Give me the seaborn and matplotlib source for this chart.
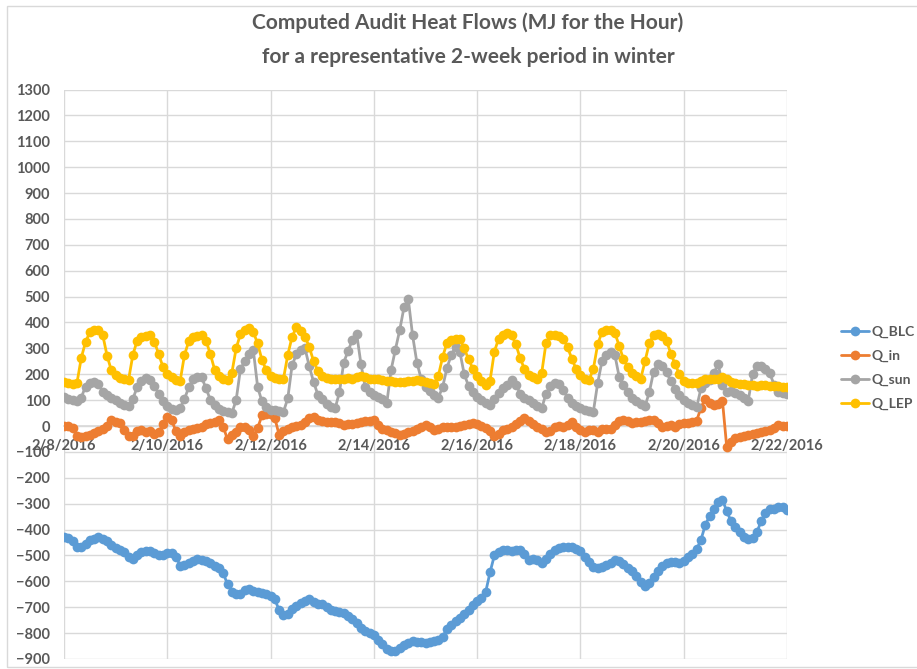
import pandas as pd
import matplotlib
matplotlib.use("Agg")
import matplotlib.pyplot as plt
import seaborn as sns
from matplotlib.lines import Line2D

# two-hourly readings, 2/8/2016 00:00 .. 2/22/2016 00:00 (MJ for the hour)
q_blc = [
    -428, -432, -445, -467, -467, -455, -442, -435, -428, -435, -445, -460,
    -473, -480, -487, -505, -513, -497, -488, -482, -482, -489, -498, -500,
    -489, -489, -505, -539, -537, -530, -520, -514, -517, -522, -530, -539,
    -550, -568, -612, -640, -650, -647, -632, -630, -636, -641, -645, -650,
    -656, -670, -712, -731, -725, -705, -695, -683, -676, -668, -680, -686,
    -687, -700, -711, -714, -718, -722, -733, -744, -762, -782, -790, -798,
    -807, -825, -842, -860, -869, -868, -856, -847, -838, -831, -833, -836,
    -838, -836, -831, -828, -815, -783, -769, -755, -741, -727, -712, -692,
    -677, -665, -640, -565, -500, -485, -478, -477, -483, -480, -480, -493,
    -518, -515, -517, -528, -512, -495, -480, -470, -467, -467, -467, -475,
    -484, -505, -527, -545, -547, -543, -537, -529, -518, -520, -533, -547,
    -561, -580, -602, -617, -607, -585, -560, -542, -528, -524, -524, -528,
    -520, -507, -494, -476, -440, -383, -348, -320, -295, -285, -329, -368,
    -392, -411, -428, -438, -431, -411, -366, -335, -320, -319, -311, -312,
    -325,
]
q_in = [
    0, 2, -8, -40, -42, -38, -33, -27, -20, -12, 0, 22,
    15, 10, -15, -38, -38, -20, -15, -22, -18, -30, -25, 8,
    35, 23, -20, -38, -25, -15, -11, -7, -3, 6, 12, 17,
    23, -3, -52, -35, -22, -5, -3, -15, -39, -9, 42, 47,
    45, 30, -35, -18, -10, -4, 0, 4, 15, 30, 33, 23,
    20, 17, 17, 17, 10, 4, 6, 9, 12, 15, 18, 20,
    23, 5, -10, -15, -22, -28, -34, -30, -25, -20, -10, -3,
    3, -5, -15, -10, -4, -3, -3, -2, 0, 4, 7, 10,
    6, 0, -8, -20, -38, -30, -17, -10, -3, 6, 20, 30,
    20, 8, -4, -12, -22, -20, -5, 2, -3, 5, 17, -5,
    -15, -22, -17, -15, -25, -10, -12, -10, 5, 18, 25, 18,
    13, 15, 17, 20, 22, 22, 10, -3, 0, 4, -2, 7,
    10, 13, 17, 20, 70, 105, 88, 81, 86, 98, -82, -60,
    -48, -43, -37, -33, -29, -26, -23, -20, -14, -8, 3, 2,
    0,
]
q_sun = [
    113, 105, 100, 97, 110, 152, 168, 170, 164, 130, 121, 110,
    100, 90, 80, 77, 105, 150, 172, 184, 178, 155, 125, 98,
    78, 66, 63, 70, 105, 150, 180, 190, 188, 145, 102, 80,
    67, 58, 53, 50, 100, 220, 250, 278, 292, 150, 95, 75,
    63, 60, 58, 55, 107, 235, 277, 293, 300, 230, 170, 120,
    104, 86, 75, 68, 130, 245, 290, 332, 357, 240, 150, 133,
    121, 113, 104, 88, 216, 295, 370, 458, 490, 350, 245, 182,
    150, 135, 120, 110, 152, 225, 275, 306, 285, 200, 155, 130,
    113, 100, 90, 82, 105, 128, 147, 160, 178, 160, 125, 108,
    100, 88, 78, 68, 125, 153, 168, 163, 138, 110, 90, 77,
    68, 62, 58, 55, 165, 250, 275, 287, 275, 190, 157, 130,
    107, 95, 85, 76, 130, 210, 240, 232, 210, 172, 142, 120,
    100, 90, 81, 72, 145, 168, 177, 203, 240, 160, 132, 134,
    127, 118, 108, 98, 200, 233, 230, 222, 203, 160, 132, 127,
    124,
]
q_lep = [
    170, 165, 163, 165, 262, 325, 362, 372, 370, 352, 272, 215,
    196, 187, 182, 178, 275, 330, 343, 348, 350, 325, 278, 228,
    200, 188, 178, 175, 275, 328, 342, 348, 350, 330, 278, 218,
    192, 180, 179, 205, 300, 355, 372, 377, 362, 319, 255, 216,
    195, 186, 180, 183, 275, 345, 382, 366, 345, 305, 250, 213,
    195, 187, 183, 182, 183, 182, 184, 183, 190, 195, 188, 183,
    182, 180, 176, 173, 172, 170, 170, 171, 172, 175, 178, 174,
    170, 167, 162, 195, 268, 322, 333, 338, 336, 300, 258, 222,
    195, 172, 160, 175, 287, 338, 352, 358, 352, 315, 262, 220,
    197, 188, 182, 205, 320, 350, 350, 347, 338, 305, 260, 220,
    196, 183, 178, 220, 315, 363, 370, 370, 360, 310, 258, 228,
    205, 194, 182, 250, 320, 352, 356, 348, 330, 280, 238, 200,
    174, 167, 165, 166, 174, 180, 181, 181, 183, 190, 182, 171,
    167, 164, 161, 159, 157, 156, 158, 157, 156, 155, 153, 152,
    150,
]

series_names = ["Q_BLC", "Q_in", "Q_sun", "Q_LEP"]
series_colors = ["#5B9BD5", "#ED7D31", "#A5A5A5", "#FFC000"]
title_lines = ["Computed Audit Heat Flows (MJ for the Hour)",
               "for a representative 2-week period in winter"]

times = pd.date_range("2016-02-08", periods=len(q_blc), freq="2h")
df = pd.DataFrame({"time": times, "Q_BLC": q_blc, "Q_in": q_in,
                   "Q_sun": q_sun, "Q_LEP": q_lep})
long_df = df.melt(id_vars="time", var_name="series", value_name="mj")

sns.set_theme(style="white")
plt.rcParams["font.family"] = ["Lato", "DejaVu Sans"]

text_grey = "#595959"
grid_grey = "#D9D9D9"

fig = plt.figure(figsize=(9.17, 6.69), dpi=100)
ax = fig.add_axes([64 / 917, 1 - 659 / 669, (787 - 64) / 917, (659 - 89.5) / 669])

sns.lineplot(data=long_df, x="time", y="mj", hue="series",
             hue_order=series_names, palette=series_colors,
             estimator=None, errorbar=None, marker="o", markersize=7,
             markeredgewidth=0, linewidth=2, legend=False, ax=ax)

# axes, grid
x_ticks = pd.date_range("2016-02-08", "2016-02-22", freq="2D")
ax.set_xlim(x_ticks[0], x_ticks[-1])
ax.set_xticks(x_ticks)
ax.set_xticklabels([f"{d.month}/{d.day}/{d.year}" for d in x_ticks])
ax.set_ylim(-900, 1300)
ax.set_yticks(range(-900, 1301, 100))
ax.grid(True, color=grid_grey, linewidth=1)
ax.set_axisbelow(True)
ax.set_xlabel("")
ax.set_ylabel("")

for side in ["left", "right", "top"]:
    ax.spines[side].set_visible(False)
ax.spines["bottom"].set_position(("data", 0))
ax.spines["bottom"].set_color(grid_grey)
ax.spines["bottom"].set_zorder(0.5)

ax.tick_params(axis="both", length=0, labelsize=10.5, labelcolor=text_grey)
ax.tick_params(axis="x", pad=9)
ax.tick_params(axis="y", pad=10)
for lab in ax.get_xticklabels() + ax.get_yticklabels():
    lab.set_fontweight("bold")
for lab in ax.get_xticklabels():
    lab.set_zorder(5)

fig.text(468 / 917, 1 - 23 / 669, title_lines[0], ha="center", va="center",
         fontsize=15, fontweight="bold", color=text_grey)
fig.text(468 / 917, 1 - 57 / 669, title_lines[1], ha="center", va="center",
         fontsize=15, fontweight="bold", color=text_grey)

handles = [Line2D([0], [0], color=c, linewidth=2, marker="o", markersize=7,
                  markeredgewidth=0) for c in series_colors]
fig.legend(handles, series_names, loc="upper left",
           bbox_to_anchor=(841 / 917, 1 - 326 / 669), frameon=False,
           handlelength=2.0, handletextpad=0.2,
           labelspacing=0.85, borderaxespad=0, borderpad=0,
           labelcolor=text_grey, prop={"weight": "bold", "size": 10})

# chart border
fig.patches.append(plt.Rectangle((7 / 917, 1 - 667 / 669), 1.0, (667 - 6) / 669,
                                 transform=fig.transFigure, fill=False,
                                 edgecolor=grid_grey, linewidth=1))

fig.savefig("out.png", dpi=100)
